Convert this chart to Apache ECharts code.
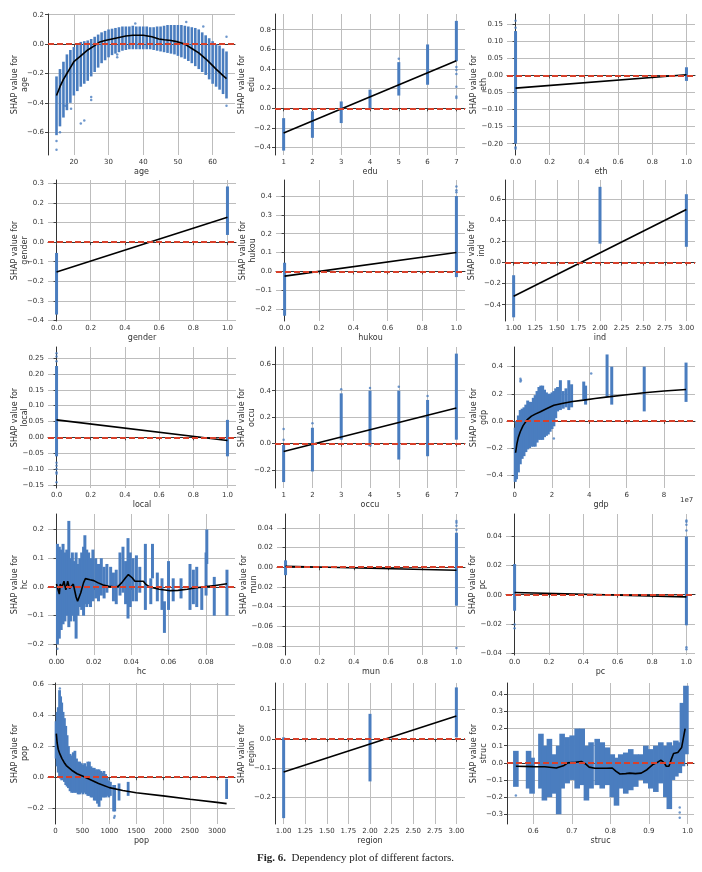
<!DOCTYPE html>
<html>
<head>
<meta charset="utf-8">
<script src="https://cdn.jsdelivr.net/npm/echarts@6/dist/echarts.min.js"></script>
<style>
  html, body { margin: 0; padding: 0; background: #fff; }
  #main { width: 702px; height: 872px; }
</style>
</head>
<body>
<div id="main"></div>
<script>
'use strict';
// SHAP dependency plots, 5 x 3 panels

// ---- tick labels ----
var ageXTicks = [20, 30, 40, 50, 60];
var ageYTicks = [-0.6, -0.4, -0.2, 0, 0.2];
var eduXTicks = [1, 2, 3, 4, 5, 6, 7];
var eduYTicks = [-0.4, -0.2, 0, 0.2, 0.4, 0.6, 0.8];
var unitXTicks = [0, 0.2, 0.4, 0.6, 0.8, 1.0];
var ethYTicks = [-0.2, -0.15, -0.1, -0.05, 0, 0.05, 0.1, 0.15];
var genderYTicks = [-0.4, -0.3, -0.2, -0.1, 0, 0.1, 0.2, 0.3];
var hukouYTicks = [-0.2, -0.1, 0, 0.1, 0.2, 0.3, 0.4];
var threeXTicks = [1, 1.25, 1.5, 1.75, 2, 2.25, 2.5, 2.75, 3];
var indYTicks = [-0.4, -0.2, 0, 0.2, 0.4, 0.6];
var localYTicks = [-0.15, -0.1, -0.05, 0, 0.05, 0.1, 0.15, 0.2, 0.25];
var occuYTicks = [-0.2, 0, 0.2, 0.4, 0.6];
var gdpXTicks = [0, 2, 4, 6, 8];
var gdpYTicks = [-0.4, -0.2, 0, 0.2, 0.4];
var hcXTicks = [0, 0.02, 0.04, 0.06, 0.08];
var hcYTicks = [-0.2, -0.1, 0, 0.1, 0.2];
var munYTicks = [-0.08, -0.06, -0.04, -0.02, 0, 0.02, 0.04];
var pcYTicks = [-0.04, -0.02, 0, 0.02, 0.04];
var popXTicks = [0, 500, 1000, 1500, 2000, 2500, 3000];
var popYTicks = [-0.2, 0, 0.2, 0.4, 0.6];
var regionYTicks = [-0.2, -0.1, 0, 0.1];
var strucXTicks = [0.6, 0.7, 0.8, 0.9, 1.0];
var strucYTicks = [-0.3, -0.2, -0.1, 0, 0.1, 0.2, 0.3, 0.4];

// ---- point clouds as [x, low, high] columns, single points as [x, y], fit lines ----
var ageStrips = [
  [15, -0.62, -0.22], [16, -0.56, -0.17], [17, -0.50, -0.12], [18, -0.45, -0.07], [19, -0.40, -0.04],
  [20, -0.35, -0.02], [21, -0.32, 0.0], [22, -0.29, 0.015], [23, -0.27, 0.02], [24, -0.25, 0.025],
  [25, -0.22, 0.035], [26, -0.19, 0.05], [27, -0.16, 0.065], [28, -0.13, 0.08], [29, -0.11, 0.09],
  [30, -0.09, 0.10], [31, -0.075, 0.105], [32, -0.065, 0.11], [33, -0.055, 0.115], [34, -0.045, 0.12],
  [35, -0.04, 0.12], [36, -0.035, 0.12], [37, -0.035, 0.125], [38, -0.035, 0.12], [39, -0.035, 0.12],
  [40, -0.035, 0.12], [41, -0.035, 0.12], [42, -0.035, 0.115], [43, -0.04, 0.115], [44, -0.045, 0.12],
  [45, -0.05, 0.12], [46, -0.055, 0.125], [47, -0.06, 0.13], [48, -0.065, 0.13], [49, -0.07, 0.13],
  [50, -0.08, 0.13], [51, -0.09, 0.13], [52, -0.10, 0.125], [53, -0.115, 0.12], [54, -0.13, 0.115],
  [55, -0.15, 0.11], [56, -0.17, 0.10], [57, -0.19, 0.08], [58, -0.21, 0.06], [59, -0.24, 0.04],
  [60, -0.27, 0.02], [61, -0.29, 0.0], [62, -0.31, -0.01], [63, -0.34, -0.03], [64, -0.37, -0.05]
];
var ageDots = [[15, -0.72], [15, -0.66], [16, -0.6], [17.5, -0.42], [19.2, -0.44], [22, -0.54], [23, -0.52],
  [25, -0.36], [25, -0.38], [32.5, -0.07], [32.5, -0.09], [37.7, 0.14], [52.4, 0.15], [57.3, 0.12], [64, 0.05], [64, -0.42]];
var ageFit = [[15, -0.35], [16, -0.29], [17, -0.24], [18, -0.2], [19, -0.16], [20, -0.12], [22, -0.08], [24, -0.04],
  [26, -0.01], [27.5, 0.015], [29, 0.025], [31, 0.035], [33, 0.045], [35, 0.055], [37, 0.06], [40, 0.06],
  [42.5, 0.05], [44.5, 0.035], [46, 0.03], [48, 0.025], [50, 0.015], [52, 0.0], [54, -0.03], [56, -0.06],
  [58, -0.1], [59.5, -0.135], [61, -0.17], [63, -0.215], [64, -0.235]];

var eduStrips = [[1, -0.43, -0.1], [2, -0.30, -0.03], [3, -0.15, 0.07], [4, -0.01, 0.19], [5, 0.13, 0.47], [6, 0.24, 0.65], [7, 0.48, 0.89]];
var eduDots = [[5, 0.505], [7, 0.105], [7, 0.22], [7, 0.35], [7, 0.39], [7, 0.42], [7, 0.12]];
var eduFit = [[1, -0.25], [7, 0.485]];

var ethStrips = [[0, -0.2, 0.13], [1, -0.016, 0.024]];
var ethDots = [[0, 0.16], [0, 0.14], [0, -0.21], [0, -0.215]];
var ethFit = [[0, -0.037], [1, 0.002]];

var genderStrips = [[0, -0.37, -0.055], [1, 0.037, 0.285]];
var genderDots = [];
var genderFit = [[0, -0.152], [1, 0.127]];

var hukouStrips = [[0, -0.235, 0.046], [1, -0.03, 0.40]];
var hukouDots = [[1, 0.45], [1, 0.43], [1, 0.42]];
var hukouFit = [[0, -0.025], [1, 0.1]];

var indStrips = [[1, -0.52, -0.12], [2, 0.18, 0.72], [3, 0.15, 0.65]];
var indDots = [];
var indFit = [[1, -0.32], [3, 0.505]];

var localStrips = [[0, -0.06, 0.225], [1, -0.06, 0.055]];
var localDots = [[0, 0.265], [0, 0.255], [0, 0.24], [0, -0.08], [0, -0.09], [0, -0.1], [0, -0.11], [0, -0.115], [0, -0.142]];
var localFit = [[0, 0.055], [1, -0.01]];

var occuStrips = [[1, -0.29, -0.01], [2, -0.21, 0.12], [3, 0.03, 0.38], [4, -0.02, 0.40], [5, -0.12, 0.40], [6, -0.095, 0.33], [7, 0.03, 0.68]];
var occuDots = [[1, 0.11], [1, 0.03], [2, 0.155], [3, 0.41], [4, 0.42], [5, 0.43], [6, 0.36]];
var occuFit = [[1, -0.06], [7, 0.27]];

// gdp in units of 1e7
var gdpStrips = [
  [0.03, -0.45, -0.05], [0.1, -0.43, 0.0], [0.2, -0.38, 0.04], [0.3, -0.32, 0.08], [0.4, -0.28, 0.09],
  [0.5, -0.26, 0.1], [0.6, -0.23, 0.12], [0.7, -0.21, 0.15], [0.8, -0.2, 0.14], [0.9, -0.19, 0.14],
  [1.0, -0.19, 0.17], [1.1, -0.19, 0.19], [1.2, -0.16, 0.22], [1.3, -0.14, 0.25], [1.4, -0.14, 0.26],
  [1.5, -0.14, 0.26], [1.6, -0.12, 0.23], [1.7, -0.11, 0.21], [1.8, -0.1, 0.2], [1.9, -0.08, 0.2],
  [2.0, -0.06, 0.21], [2.1, -0.04, 0.22], [2.2, 0.02, 0.24], [2.3, 0.07, 0.25], [2.45, 0.08, 0.3],
  [2.6, 0.09, 0.22], [2.75, 0.1, 0.24], [2.9, 0.08, 0.3], [3.05, 0.1, 0.27], [3.7, 0.15, 0.29],
  [3.8, 0.12, 0.26], [4.95, 0.18, 0.49], [5.2, 0.12, 0.4], [6.94, 0.07, 0.4], [9.18, 0.14, 0.43]
];
var gdpDots = [[0.31, 0.31], [0.31, 0.29], [0.33, 0.3], [2.1, -0.13], [4.1, 0.35]];
var gdpFit = [[0.05, -0.235], [0.12, -0.17], [0.2, -0.12], [0.3, -0.08], [0.45, -0.035], [0.66, 0.007],
  [0.9, 0.035], [1.1, 0.05], [1.38, 0.068], [1.7, 0.09], [2.1, 0.115], [2.6, 0.13], [3.1, 0.143],
  [3.7, 0.153], [4.3, 0.165], [5, 0.177], [6, 0.193], [6.94, 0.208], [8, 0.22], [9.18, 0.232]];

var hcStrips = [
  [0.0005, -0.2, 0.15], [0.0015, -0.18, 0.14], [0.0025, -0.15, 0.13], [0.0035, -0.13, 0.15], [0.0045, -0.12, 0.12],
  [0.0055, -0.1, 0.13], [0.0066, -0.14, 0.23], [0.0075, -0.12, 0.1], [0.0085, -0.1, 0.12], [0.0095, -0.12, 0.09],
  [0.0105, -0.18, 0.12], [0.0115, -0.1, 0.08], [0.0125, -0.07, 0.1], [0.0135, -0.08, 0.12], [0.0145, -0.1, 0.14],
  [0.0152, -0.06, 0.18], [0.0162, -0.07, 0.13], [0.0172, -0.06, 0.12], [0.0182, -0.07, 0.1], [0.0195, -0.05, 0.13],
  [0.021, -0.04, 0.1], [0.0225, -0.05, 0.08], [0.024, -0.03, 0.1], [0.0255, -0.04, 0.07], [0.027, -0.02, 0.08],
  [0.029, 0.0, 0.07], [0.0305, -0.05, 0.05], [0.032, -0.06, 0.06], [0.034, -0.03, 0.12], [0.0356, -0.02, 0.14],
  [0.037, -0.06, 0.09], [0.0383, -0.11, 0.17], [0.0395, -0.07, 0.12], [0.041, -0.05, 0.1], [0.0428, -0.05, 0.11],
  [0.0446, -0.02, 0.07], [0.0476, -0.08, 0.15], [0.0505, -0.06, 0.03], [0.0514, 0.03, 0.15], [0.054, -0.05, 0.05],
  [0.0565, -0.08, 0.03], [0.0578, -0.16, -0.05], [0.06, -0.08, 0.09], [0.0625, -0.05, 0.03], [0.0667, -0.04, 0.03],
  [0.0715, -0.08, 0.08], [0.0733, -0.06, 0.06], [0.0751, -0.07, 0.07], [0.0778, -0.08, 0.0], [0.0801, -0.03, 0.12],
  [0.0805, 0.08, 0.2], [0.0845, -0.1, 0.035], [0.0913, -0.1, 0.06]
];
var hcDots = [[0.0005, -0.215]];
var hcFit = [[0.0, 0.01], [0.0015, -0.025], [0.002, 0.01], [0.003, 0.0], [0.004, 0.02], [0.005, -0.01],
  [0.006, 0.02], [0.007, -0.005], [0.008, -0.01], [0.009, 0.01], [0.0105, -0.035], [0.0113, -0.05],
  [0.013, -0.02], [0.0145, 0.015], [0.0155, 0.029], [0.018, 0.025], [0.02, 0.022], [0.022, 0.015],
  [0.025, 0.007], [0.028, 0.002], [0.0315, 0.0], [0.033, 0.002], [0.035, 0.015], [0.037, 0.032],
  [0.0385, 0.043], [0.0405, 0.032], [0.042, 0.02], [0.045, 0.02], [0.0465, 0.02], [0.048, 0.008],
  [0.05, 0.0], [0.055, -0.008], [0.061, -0.013], [0.065, -0.012], [0.07, -0.008], [0.075, -0.003],
  [0.08, 0.001], [0.085, 0.005], [0.0913, 0.011]];

var munStrips = [[0, -0.008, 0.007], [1, -0.039, 0.035]];
var munDots = [[1, 0.047], [1, 0.045], [1, 0.042], [1, 0.038], [1, -0.082]];
var munFit = [[0, 0.001], [1, -0.003]];

var pcStrips = [[0, -0.011, 0.021], [1, -0.021, 0.04]];
var pcDots = [[0, -0.0205], [0, -0.023], [1, 0.051], [1, 0.05], [1, 0.048], [1, 0.044], [1, -0.036], [1, -0.0375]];
var pcFit = [[0, 0.0015], [1, -0.0015]];

var popStrips = [
  [10, 0.12, 0.36], [30, 0.07, 0.42], [50, 0.03, 0.45], [75, 0.0, 0.56], [95, -0.01, 0.52], [115, -0.02, 0.48],
  [140, -0.01, 0.42], [165, -0.03, 0.38], [190, -0.05, 0.33], [215, -0.06, 0.27], [240, -0.07, 0.2],
  [270, -0.09, 0.15], [300, -0.1, 0.14], [330, -0.1, 0.16], [360, -0.1, 0.17], [390, -0.1, 0.12],
  [420, -0.11, 0.1], [450, -0.11, 0.1], [480, -0.1, 0.09], [510, -0.11, 0.08], [540, -0.1, 0.09],
  [570, -0.11, 0.07], [600, -0.12, 0.1], [630, -0.12, 0.1], [660, -0.13, 0.07], [690, -0.13, 0.06],
  [720, -0.15, 0.06], [750, -0.15, 0.05], [780, -0.17, 0.05], [810, -0.19, 0.05], [840, -0.15, 0.04],
  [870, -0.13, 0.03], [900, -0.13, 0.04], [930, -0.13, 0.02], [960, -0.12, 0.0], [990, -0.13, -0.02],
  [1020, -0.12, -0.03], [1080, -0.22, -0.05], [1100, -0.22, -0.05], [1180, -0.15, -0.04], [1350, -0.12, -0.03],
  [3180, -0.14, -0.01]
];
var popDots = [[1090, -0.26], [1100, -0.25], [80, 0.57]];
var popFit = [[15, 0.28], [30, 0.22], [50, 0.18], [80, 0.15], [120, 0.12], [160, 0.095], [200, 0.075],
  [300, 0.045], [400, 0.022], [500, 0.008], [600, -0.008], [800, -0.04], [1000, -0.067], [1250, -0.085],
  [1500, -0.1], [2000, -0.12], [2500, -0.142], [3000, -0.162], [3180, -0.17]];

var regionStrips = [[1, -0.27, 0.005], [2, -0.145, 0.085], [3, 0.005, 0.175]];
var regionDots = [];
var regionFit = [[1, -0.113], [3, 0.078]];

var strucStrips = [
  [0.555, -0.14, 0.07], [0.588, -0.15, 0.07], [0.597, -0.18, 0.03], [0.62, -0.15, 0.17], [0.629, -0.22, 0.1],
  [0.642, -0.2, 0.14], [0.653, -0.18, 0.05], [0.666, -0.3, 0.1], [0.675, -0.15, 0.17], [0.688, -0.12, 0.15],
  [0.701, -0.1, 0.16], [0.714, -0.15, 0.2], [0.727, -0.13, 0.2], [0.738, -0.22, 0.1], [0.75, -0.15, 0.12],
  [0.766, -0.13, 0.14], [0.779, -0.15, 0.12], [0.792, -0.13, 0.09], [0.805, -0.2, 0.05], [0.816, -0.25, 0.03],
  [0.827, -0.15, 0.05], [0.84, -0.18, 0.06], [0.853, -0.16, 0.08], [0.866, -0.14, 0.05], [0.879, -0.1, 0.05],
  [0.892, -0.12, 0.1], [0.905, -0.15, 0.08], [0.918, -0.17, 0.1], [0.931, -0.12, 0.12], [0.944, -0.2, 0.1],
  [0.953, -0.27, 0.12], [0.961, -0.1, 0.1], [0.97, -0.08, 0.13], [0.979, -0.06, 0.12], [0.987, -0.02, 0.35],
  [0.996, 0.05, 0.45]
];
var strucDots = [[0.555, -0.19], [0.98, -0.26], [0.98, -0.29], [0.98, -0.32]];
var strucFit = [[0.555, -0.02], [0.6, -0.022], [0.63, -0.023], [0.66, -0.03], [0.68, -0.015], [0.69, 0.0],
  [0.71, 0.003], [0.725, 0.008], [0.735, -0.005], [0.745, -0.025], [0.76, -0.032], [0.79, -0.032],
  [0.805, -0.03], [0.815, -0.05], [0.825, -0.065], [0.84, -0.063], [0.85, -0.06], [0.865, -0.063],
  [0.88, -0.06], [0.895, -0.04], [0.91, -0.01], [0.92, 0.0], [0.931, 0.016], [0.94, 0.0], [0.945, -0.02],
  [0.952, -0.02], [0.958, 0.02], [0.964, 0.055], [0.975, 0.06], [0.985, 0.09], [0.994, 0.2]];

// ---- panel layout ----
var panels = [
  { name: 'age', strips: ageStrips, dots: ageDots, fit: ageFit, xt: ageXTicks, yt: ageYTicks, xd: 0, yd: 1,
    x: [12.55, 66.45], y: [-0.755, 0.205], left: 48, top: 14, width: 187, bw: 2.6 },
  { name: 'edu', strips: eduStrips, dots: eduDots, fit: eduFit, xt: eduXTicks, yt: eduYTicks, xd: 0, yd: 1,
    x: [0.7, 7.3], y: [-0.475, 0.96], left: 275, top: 14, width: 190, bw: 3 },
  { name: 'eth', strips: ethStrips, dots: ethDots, fit: ethFit, xt: unitXTicks, yt: ethYTicks, xd: 1, yd: 2,
    x: [-0.05, 1.05], y: [-0.233, 0.18], left: 507, top: 14, width: 188, bw: 3 },
  { name: 'gender', strips: genderStrips, dots: genderDots, fit: genderFit, xt: unitXTicks, yt: genderYTicks, xd: 1, yd: 1,
    x: [-0.05, 1.05], y: [-0.403, 0.318], left: 48, top: 180, width: 188, bw: 3 },
  { name: 'hukou', strips: hukouStrips, dots: hukouDots, fit: hukouFit, xt: unitXTicks, yt: hukouYTicks, xd: 1, yd: 1,
    x: [-0.05, 1.05], y: [-0.263, 0.485], left: 276, top: 180, width: 189, bw: 3 },
  { name: 'ind', strips: indStrips, dots: indDots, fit: indFit, xt: threeXTicks, yt: indYTicks, xd: 2, yd: 1,
    x: [0.9, 3.1], y: [-0.555, 0.785], left: 505, top: 180, width: 190, bw: 3 },
  { name: 'local', strips: localStrips, dots: localDots, fit: localFit, xt: unitXTicks, yt: localYTicks, xd: 1, yd: 2,
    x: [-0.05, 1.05], y: [-0.16, 0.285], left: 48, top: 347, width: 188, bw: 3 },
  { name: 'occu', strips: occuStrips, dots: occuDots, fit: occuFit, xt: eduXTicks, yt: occuYTicks, xd: 0, yd: 1,
    x: [0.7, 7.3], y: [-0.335, 0.73], left: 275, top: 347, width: 190, bw: 3 },
  { name: 'gdp', strips: gdpStrips, dots: gdpDots, fit: gdpFit, xt: gdpXTicks, yt: gdpYTicks, xd: 0, yd: 1,
    x: [-0.41, 9.66], y: [-0.495, 0.545], left: 507, top: 347, width: 188, bw: 3 },
  { name: 'hc', strips: hcStrips, dots: hcDots, fit: hcFit, xt: hcXTicks, yt: hcYTicks, xd: 2, yd: 1,
    x: [-0.00455, 0.0956], y: [-0.237, 0.254], left: 48, top: 514, width: 187, bw: 3 },
  { name: 'mun', strips: munStrips, dots: munDots, fit: munFit, xt: unitXTicks, yt: munYTicks, xd: 1, yd: 2,
    x: [-0.05, 1.05], y: [-0.089, 0.054], left: 277, top: 514, width: 188, bw: 3 },
  { name: 'pc', strips: pcStrips, dots: pcDots, fit: pcFit, xt: unitXTicks, yt: pcYTicks, xd: 1, yd: 2,
    x: [-0.05, 1.05], y: [-0.0414, 0.0554], left: 506, top: 514, width: 189, bw: 3 },
  { name: 'pop', strips: popStrips, dots: popDots, fit: popFit, xt: popXTicks, yt: popYTicks, xd: 0, yd: 1,
    x: [-140, 3336], y: [-0.301, 0.606], left: 48, top: 683, width: 187, bw: 2.8 },
  { name: 'region', strips: regionStrips, dots: regionDots, fit: regionFit, xt: threeXTicks, yt: regionYTicks, xd: 2, yd: 1,
    x: [0.9, 3.1], y: [-0.29, 0.19], left: 275, top: 683, width: 190, bw: 3 },
  { name: 'struc', strips: strucStrips, dots: strucDots, fit: strucFit, xt: strucXTicks, yt: strucYTicks, xd: 1, yd: 1,
    x: [0.532, 1.017], y: [-0.357, 0.466], left: 507, top: 683, width: 187, bw: 5.6 }
];

var BLUE = '#4a7dbf';
var RED = '#d8402a';
var FONT = 'DejaVu Sans';

function fmt(d) {
  return function (v) { return v.toFixed(d).replace('-', '\u2212'); };
}

var grids = [], xAxes = [], yAxes = [], series = [];

panels.forEach(function (p, i) {
  grids.push({ left: p.left, top: p.top, width: p.width, height: 141 });

  xAxes.push({
    type: 'value', gridIndex: i, min: p.x[0], max: p.x[1],
    name: p.name, nameLocation: 'middle', nameGap: 13, nameMoveOverlap: false,
    nameTextStyle: { fontFamily: FONT, fontSize: 8, color: '#333' },
    axisLine: { lineStyle: { color: '#333', width: 1 } },
    axisTick: { show: true, length: 3, customValues: p.xt, lineStyle: { color: '#444' } },
    axisLabel: { customValues: p.xt, formatter: fmt(p.xd), fontFamily: FONT, fontSize: 7, color: '#333', margin: 4 },
    splitLine: { show: true, lineStyle: { color: '#bdbdbd', width: 1 } }
  });

  yAxes.push({
    type: 'value', gridIndex: i, min: p.y[0], max: p.y[1],
    name: 'SHAP value for\n' + p.name, nameLocation: 'middle', nameGap: 18, nameRotate: 90,
    nameMoveOverlap: false,
    nameTextStyle: { fontFamily: FONT, fontSize: 8, color: '#333', lineHeight: 10 },
    axisLine: { show: true, lineStyle: { color: '#333', width: 1 } },
    axisTick: { show: true, length: 3, customValues: p.yt, lineStyle: { color: '#444' } },
    axisLabel: { customValues: p.yt, formatter: fmt(p.yd), fontFamily: FONT, fontSize: 7, color: '#333', margin: 4 },
    splitLine: { show: true, lineStyle: { color: '#bdbdbd', width: 1 } }
  });

  var bw = p.bw;
  series.push({
    type: 'custom', xAxisIndex: i, yAxisIndex: i, z: 1, silent: true,
    data: p.strips,
    encode: { x: 0, y: [1, 2] },
    renderItem: function (params, api) {
      var top = api.coord([api.value(0), api.value(2)]);
      var bot = api.coord([api.value(0), api.value(1)]);
      return {
        type: 'rect',
        shape: { x: top[0] - bw / 2, y: top[1], width: bw, height: Math.max(bot[1] - top[1], 1.5) },
        style: { fill: BLUE }
      };
    }
  });

  series.push({
    type: 'scatter', xAxisIndex: i, yAxisIndex: i, z: 1, silent: true,
    data: p.dots, symbolSize: 2.5, itemStyle: { color: BLUE }
  });

  series.push({
    type: 'line', xAxisIndex: i, yAxisIndex: i, z: 2, silent: true, data: [],
    markLine: {
      silent: true, symbol: 'none', label: { show: false },
      lineStyle: { color: RED, type: [6, 3], width: 2, opacity: 1 },
      data: [{ yAxis: 0 }]
    }
  });

  series.push({
    type: 'line', xAxisIndex: i, yAxisIndex: i, z: 3, silent: true,
    data: p.fit, showSymbol: false, smooth: false,
    lineStyle: { color: '#000', width: 1.6 }
  });
});

var chart = echarts.init(document.getElementById('main'), null, { renderer: 'canvas' });
chart.setOption({
  animation: false,
  backgroundColor: '#fff',
  grid: grids,
  xAxis: xAxes,
  yAxis: yAxes,
  series: series,
  graphic: [
    { type: 'text', left: 680, top: 497,
      style: { text: '1e7', font: '7px "DejaVu Sans"', fill: '#333' } },
    { type: 'text', left: 257, top: 853,
      style: {
        text: '{b|Fig. 6.}  Dependency plot of different factors.',
        font: '11px "Liberation Serif"', fill: '#222',
        rich: { b: { fontWeight: 'bold', fontFamily: 'Liberation Serif', fontSize: 11 } }
      } }
  ]
});
</script>
</body>
</html>
